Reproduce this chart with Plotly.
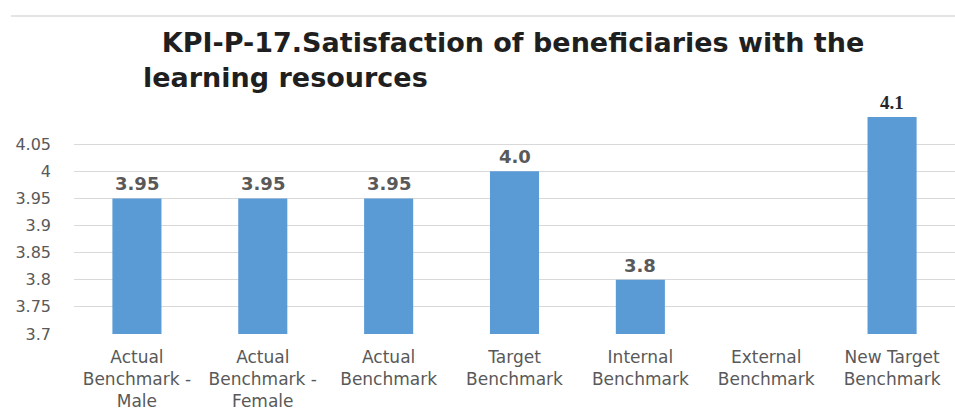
import plotly.graph_objects as go

# KPI-P-17 benchmark scores
categories = [
    "Actual<br>Benchmark -<br>Male",
    "Actual<br>Benchmark -<br>Female",
    "Actual<br>Benchmark",
    "Target<br>Benchmark",
    "Internal<br>Benchmark",
    "External<br>Benchmark",
    "New Target<br>Benchmark",
]
scores = [3.95, 3.95, 3.95, 4.0, 3.8, None, 4.1]
score_labels = ["3.95", "3.95", "3.95", "4.0", "3.8", "", "4.1"]

y_ticks = [3.7, 3.75, 3.8, 3.85, 3.9, 3.95, 4.0, 4.05]
y_tick_labels = ["3.7", "3.75", "3.8", "3.85", "3.9", "3.95", "4", "4.05"]
y_range = [3.7, 4.1]

BAR_BLUE = "#5b9bd5"
GREY_TEXT = "#595959"
GRID = "#d9d9d9"

fig = go.Figure(
    go.Bar(
        x=categories,
        y=scores,
        marker=dict(color=BAR_BLUE, line=dict(width=0)),
        hoverinfo="x+y",
    )
)

# value labels above each bar
for cat, val, lab in zip(categories, scores, score_labels):
    if val is None:
        continue
    is_new = cat.startswith("New Target")
    fig.add_annotation(
        x=cat,
        y=val,
        xref="x",
        yref="y",
        text=lab,
        showarrow=False,
        xanchor="center",
        yanchor="bottom",
        yshift=2,
        font=dict(
            family="Liberation Serif" if is_new else "DejaVu Sans",
            size=19 if is_new else 18,
            color="#262626" if is_new else GREY_TEXT,
            weight="bold",
        ),
    )

# thin rule across the top of the panel
fig.add_shape(
    type="line",
    xref="paper",
    yref="paper",
    x0=-0.0715,
    x1=1.0,
    y0=1.4656,
    y1=1.4656,
    line=dict(color="#e4e4e4", width=2),
)

fig.update_layout(
    width=955,
    height=410,
    margin=dict(l=74, r=0, t=117, b=76),
    paper_bgcolor="white",
    plot_bgcolor="white",
    bargap=0.61,
    showlegend=False,
    title=dict(
        text="&nbsp;&nbsp;KPI-P-17.Satisfaction of beneficiaries with the<br>learning resources",
        x=143 / 955,
        xanchor="left",
        xref="container",
        y=1 - 52 / 410,
        yanchor="top",
        yref="container",
        font=dict(family="DejaVu Sans", size=27, color="#1f1f1f", weight="bold"),
    ),
    xaxis=dict(
        showgrid=False,
        showline=False,
        zeroline=False,
        ticks="",
        automargin=False,
        tickfont=dict(family="DejaVu Sans", size=17, color=GREY_TEXT),
        ticklabelstandoff=11,
    ),
    yaxis=dict(
        range=y_range,
        tickvals=y_ticks,
        ticktext=y_tick_labels,
        showgrid=True,
        gridcolor=GRID,
        gridwidth=1,
        zeroline=False,
        showline=False,
        ticks="",
        automargin=False,
        tickfont=dict(family="DejaVu Sans", size=16, color=GREY_TEXT),
        ticklabelstandoff=22,
    ),
)

fig.write_html("out.html")
